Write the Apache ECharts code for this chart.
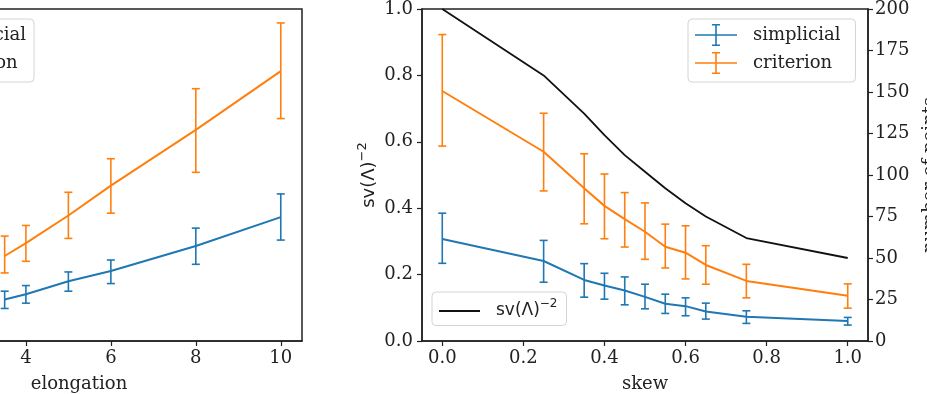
<!DOCTYPE html>
<html>
<head>
<meta charset="utf-8">
<script src="https://cdn.jsdelivr.net/npm/echarts@6/dist/echarts.min.js"></script>
<style>
  html, body { margin: 0; padding: 0; background: #fff; }
  #chart { width: 927px; height: 394px; }
</style>
</head>
<body>
<div id="chart"></div>
<script>
// left panel (cropped): elongation
var elongation = [3.5, 4, 5, 6, 8, 10];
var simplicialElong = [0.125, 0.141, 0.180, 0.211, 0.286, 0.373];
var simplicialElongLo = [0.098, 0.114, 0.150, 0.173, 0.231, 0.304];
var simplicialElongHi = [0.150, 0.167, 0.208, 0.244, 0.340, 0.443];
var criterionElong = [0.256, 0.295, 0.378, 0.468, 0.636, 0.813];
var criterionElongLo = [0.205, 0.240, 0.309, 0.385, 0.508, 0.670];
var criterionElongHi = [0.316, 0.348, 0.448, 0.549, 0.760, 0.958];

// right panel: skew
var skew = [0, 0.25, 0.35, 0.4, 0.45, 0.5, 0.55, 0.6, 0.65, 0.75, 1.0];
var simplicialSkew = [0.307, 0.241, 0.184, 0.167, 0.152, 0.133, 0.112, 0.105, 0.089, 0.073, 0.060];
var simplicialSkewLo = [0.234, 0.177, 0.132, 0.126, 0.109, 0.097, 0.083, 0.076, 0.066, 0.053, 0.048];
var simplicialSkewHi = [0.385, 0.303, 0.233, 0.204, 0.193, 0.171, 0.141, 0.130, 0.114, 0.091, 0.071];
var criterionSkew = [0.753, 0.570, 0.460, 0.407, 0.367, 0.329, 0.284, 0.266, 0.229, 0.181, 0.136];
var criterionSkewLo = [0.587, 0.452, 0.353, 0.308, 0.283, 0.246, 0.220, 0.187, 0.171, 0.130, 0.099];
var criterionSkewHi = [0.923, 0.686, 0.564, 0.503, 0.447, 0.416, 0.352, 0.347, 0.287, 0.231, 0.172];
var numPoints = [200, 160, 137, 124, 112, 102, 92, 83, 75, 62, 50];

// tick labels
var elongTicks = [0, 2, 4, 6, 8, 10];
var skewTicks = [0, 0.2, 0.4, 0.6, 0.8, 1.0];

var BLUE = '#1f77b4', ORANGE = '#ff7f0e', INK = '#222';
var FONT = 'DejaVu Serif';
var SV_NAME = 'sv(Λ)^-2';
var ERR_ICON = 'path://M0,10.2H42V11.8H0Z M20.2,1H21.8V21H20.2Z M17,0H25V1.6H17Z M17,20.4H25V22H17Z';
var LINE_ICON = 'path://M0,0H42V1.8H0Z';

function pairs(xs, ys) {
    var out = [];
    for (var i = 0; i < xs.length; i++) out.push([xs[i], ys[i]]);
    return out;
}

function lineSeries(name, xi, yi, color, xs, ys) {
    return {
        name: name, type: 'line', xAxisIndex: xi, yAxisIndex: yi,
        data: pairs(xs, ys), symbol: 'none', z: 3,
        itemStyle: {color: color},
        lineStyle: {color: color, width: 2}
    };
}

// error bars with caps
function errorSeries(name, xi, yi, color, xs, lo, hi) {
    var data = [];
    for (var i = 0; i < xs.length; i++) data.push([xs[i], lo[i], hi[i]]);
    return {
        name: name, type: 'custom', xAxisIndex: xi, yAxisIndex: yi,
        data: data, z: 2,
        itemStyle: {color: color},
        encode: {x: 0, y: [1, 2]},
        renderItem: function (params, api) {
            var x = api.value(0);
            var a = api.coord([x, api.value(1)]);
            var b = api.coord([x, api.value(2)]);
            var st = {stroke: color, lineWidth: 1.6};
            var c = 4;
            return {
                type: 'group',
                children: [
                    {type: 'line', shape: {x1: a[0], y1: a[1], x2: b[0], y2: b[1]}, style: st},
                    {type: 'line', shape: {x1: a[0] - c, y1: a[1], x2: a[0] + c, y2: a[1]}, style: st},
                    {type: 'line', shape: {x1: b[0] - c, y1: b[1], x2: b[0] + c, y2: b[1]}, style: st}
                ]
            };
        }
    };
}

function xAxisCfg(gi, min, max, ticks, fmt, name) {
    return {
        gridIndex: gi, type: 'value', min: min, max: max,
        name: name, nameLocation: 'middle', nameGap: 34,
        nameTextStyle: {fontFamily: FONT, fontSize: 18, color: INK},
        axisLine: {show: true, onZero: false, lineStyle: {color: INK, width: 1.5}},
        axisTick: {show: true, length: 5, customValues: ticks, lineStyle: {color: INK, width: 1.2}},
        axisLabel: {customValues: ticks, margin: 8, fontFamily: FONT, fontSize: 18, color: INK, formatter: fmt},
        splitLine: {show: false}
    };
}

function yAxisCfg(gi, min, max, interval, fmt) {
    return {
        gridIndex: gi, type: 'value', min: min, max: max, interval: interval,
        axisLine: {show: true, onZero: false, lineStyle: {color: INK, width: 1.5}},
        axisTick: {show: true, length: 5, lineStyle: {color: INK, width: 1.2}},
        axisLabel: {fontFamily: FONT, fontSize: 18, color: INK, margin: 9, formatter: fmt},
        splitLine: {show: false}
    };
}

function legendCfg(pos, padRight) {
    var cfg = {
        data: [{name: 'simplicial', icon: ERR_ICON}, {name: 'criterion', icon: ERR_ICON}],
        orient: 'vertical', top: 19,
        itemWidth: 42, itemHeight: 22, itemGap: 6,
        padding: [5, padRight, 8, 7],
        backgroundColor: 'rgba(255,255,255,0.8)',
        borderColor: '#d4d4d4', borderWidth: 1, borderRadius: 4,
        textStyle: {fontFamily: FONT, fontSize: 18, color: INK, padding: [0, 0, 0, 11]},
        selectedMode: false
    };
    for (var k in pos) cfg[k] = pos[k];
    return cfg;
}

function oneDecimal(v) { return v.toFixed(1); }

var chart = echarts.init(document.getElementById('chart'), null, {renderer: 'canvas'});

var svAxis = yAxisCfg(1, 0, 1, 0.2, oneDecimal);
svAxis.name = '{a|sv(Λ)}{s|−2}';
svAxis.nameLocation = 'middle';
svAxis.nameGap = 40;
svAxis.nameRotate = 90;
svAxis.nameTextStyle = {
    color: INK,
    rich: {
        a: {fontFamily: 'DejaVu Sans', fontSize: 18, color: INK, lineHeight: 26},
        s: {fontFamily: 'DejaVu Sans', fontSize: 13, color: INK, lineHeight: 15, verticalAlign: 'top'}
    }
};

var pointsAxis = yAxisCfg(1, 0, 200, 25, null);
pointsAxis.position = 'right';
pointsAxis.axisLabel.margin = 7;
pointsAxis.name = 'number of points';
pointsAxis.nameLocation = 'middle';
pointsAxis.nameGap = 53;
pointsAxis.nameRotate = 90;
pointsAxis.nameTextStyle = {fontFamily: FONT, fontSize: 18, color: INK};

var option = {
    animation: false,
    backgroundColor: '#fff',
    grid: [
        {left: -144, top: 9, width: 446, height: 332, show: true, borderColor: INK, borderWidth: 1.5,
            containLabel: false, outerBoundsMode: 'none'},
        {left: 422, top: 9, width: 446, height: 332, show: true, borderColor: INK, borderWidth: 1.5,
            containLabel: false, outerBoundsMode: 'none'}
    ],
    xAxis: [
        xAxisCfg(0, 0, 10.5, elongTicks, function (v) { return String(v); }, 'elongation'),
        xAxisCfg(1, -0.05, 1.05, skewTicks, oneDecimal, 'skew')
    ],
    yAxis: [
        yAxisCfg(0, 0, 1, 0.2, oneDecimal),
        svAxis,
        pointsAxis
    ],
    legend: [
        legendCfg({right: 893}, 8),
        legendCfg({left: 688}, 15),
        {
            data: [{name: SV_NAME, icon: LINE_ICON}],
            left: 432, top: 292,
            itemWidth: 41, itemHeight: 1.8,
            padding: [6, 9, 6, 7],
            backgroundColor: 'rgba(255,255,255,0.8)',
            borderColor: '#d4d4d4', borderWidth: 1, borderRadius: 4,
            selectedMode: false,
            formatter: function () { return '{a|sv(Λ)}{s|−2}'; },
            textStyle: {
                padding: [0, 0, 0, 11],
                rich: {
                    a: {fontFamily: 'DejaVu Sans', fontSize: 17, color: INK, lineHeight: 26},
                    s: {fontFamily: 'DejaVu Sans', fontSize: 12, color: INK, lineHeight: 16, verticalAlign: 'top'}
                }
            }
        }
    ],
    series: [
        errorSeries('simplicial', 0, 0, BLUE, elongation, simplicialElongLo, simplicialElongHi),
        lineSeries('simplicial', 0, 0, BLUE, elongation, simplicialElong),
        errorSeries('criterion', 0, 0, ORANGE, elongation, criterionElongLo, criterionElongHi),
        lineSeries('criterion', 0, 0, ORANGE, elongation, criterionElong),
        errorSeries('simplicial', 1, 1, BLUE, skew, simplicialSkewLo, simplicialSkewHi),
        lineSeries('simplicial', 1, 1, BLUE, skew, simplicialSkew),
        errorSeries('criterion', 1, 1, ORANGE, skew, criterionSkewLo, criterionSkewHi),
        lineSeries('criterion', 1, 1, ORANGE, skew, criterionSkew),
        {
            name: SV_NAME, type: 'line', xAxisIndex: 1, yAxisIndex: 2,
            data: pairs(skew, numPoints), symbol: 'none', z: 4,
            itemStyle: {color: '#111'},
            lineStyle: {color: '#111', width: 1.8}
        }
    ]
};

chart.setOption(option);
</script>
</body>
</html>
